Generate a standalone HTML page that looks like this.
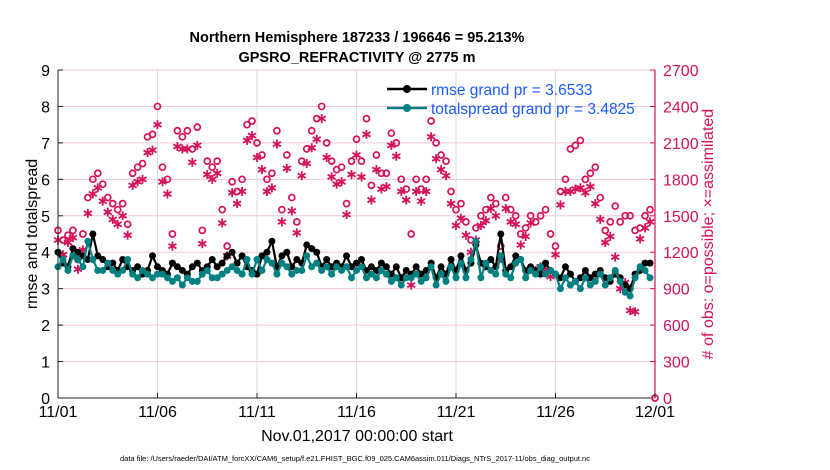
<!DOCTYPE html>
<html><head><meta charset="utf-8"><style>
html,body{margin:0;padding:0;background:#fff;}
svg{display:block;font-family:"Liberation Sans",sans-serif;}
</style></head><body>
<svg id="chart" width="830" height="470" viewBox="0 0 830 470">
<rect width="830" height="470" fill="#fff"/>
<text x="357" y="42" text-anchor="middle" font-size="14.5" font-weight="bold">Northern Hemisphere 187233 / 196646 = 95.213%</text>
<text x="357" y="62" text-anchor="middle" font-size="14.5" font-weight="bold">GPSRO_REFRACTIVITY @ 2775 m</text>
<g id="grid"></g>
<g id="series"></g>
<g id="axes"></g>
<text transform="translate(37,234) rotate(-90)" text-anchor="middle" font-size="16">rmse and totalspread</text>
<text transform="translate(713,234) rotate(-90)" text-anchor="middle" font-size="16" fill="#d6115a"># of obs: o=possible; ×=assimilated</text>
<text x="357" y="441" text-anchor="middle" font-size="16">Nov.01,2017 00:00:00 start</text>
<text x="355" y="461" text-anchor="middle" font-size="7.5">data file: /Users/raeder/DAI/ATM_forcXX/CAM6_setup/f.e21.FHIST_BGC.f09_025.CAM6assim.011/Diags_NTrS_2017-11/obs_diag_output.nc</text>
<g>
<line x1="387" y1="89" x2="427" y2="89" stroke="#000" stroke-width="2.5"/>
<circle cx="407" cy="89" r="4" fill="#000"/>
<text x="431" y="95" font-size="15.5" fill="#1a5cff">rmse grand pr = 3.6533</text>
<line x1="387" y1="108" x2="427" y2="108" stroke="#008080" stroke-width="2.5"/>
<circle cx="407" cy="108" r="4" fill="#008080"/>
<text x="431" y="114" font-size="15.5" fill="#1a5cff">totalspread grand pr = 3.4825</text>
</g>
</svg>
<script>
const rmse=[4.0,3.7,3.6,4.1, 4.0,3.9,3.8,4.5, 3.9,3.8,3.6,3.7, 3.5,3.8,3.6,3.5, 3.6,3.4,3.5,3.9, 3.6,3.5,3.4,3.7, 3.6,3.5,3.4,3.6, 3.7,3.5,3.6,3.8, 3.6,3.7,3.9,4.0, 3.7,3.9,3.6,3.5, 3.4,3.9,4.0,4.3, 3.6,3.9,4.0,3.6, 3.8,3.7,4.2,4.1, 4.0,3.6,3.8,3.6, 3.7,3.6,3.9,3.6, 3.7,3.8,3.5,3.6, 3.5,3.7,3.6,3.4, 3.6,3.3,3.5,3.4, 3.6,3.4,3.5,3.7, 3.3,3.6,3.4,3.8, 3.5,3.9,3.5,3.7, 4.2,3.7,3.6,3.8, 3.6,4.5,3.5,3.6, 3.9,3.8,3.5,3.6, 3.5,3.4,3.7,3.5, 3.4,3.3,3.6,3.4, 3.2,3.3,3.5,3.3, 3.4,3.5,3.3,3.2, 3.4,3.3,3.1,3.0, 3.4,3.5,3.7,3.7];
const spread=[3.6,3.8,3.5,3.9, 3.8,3.6,4.3,3.8, 3.5,3.5,3.7,3.5, 3.4,3.5,3.8,3.4, 3.3,3.5,3.4,3.3, 3.4,3.4,3.3,3.2, 3.3,3.1,3.3,3.2, 3.2,3.4,3.5,3.3, 3.3,3.4,3.5,3.6, 3.5,3.4,3.8,3.4, 3.8,3.5,3.8,3.7, 3.4,3.7,3.6,3.4, 3.5,3.5,3.9,3.6, 3.7,3.5,3.6,3.4, 3.6,3.5,3.6,3.3, 3.5,3.6,3.3,3.4, 3.3,3.5,3.4,3.2, 3.3,3.1,3.3,3.3, 3.4,3.2,3.3,3.6, 3.1,3.4,3.2,3.6, 3.3,3.7,3.3,3.8, 4.3,3.3,3.7,3.5, 3.4,3.9,3.4,3.3, 3.7,3.8,3.3,3.5, 3.4,3.6,3.4,3.5, 3.4,3.0,3.3,3.1, 3.2,3.0,3.3,3.1, 3.2,3.4,3.1,3.3, 3.5,3.2,2.9,2.8, 3.3,3.6,3.5,3.3];
const possible=[1380,1300,1340,1380, 1140,1350,1650,1800, 1850,1760,1650,1600, 1550,1600,1430,1850, 1900,1930,2150,2170, 2400,1900,1800,1350, 2200,2150,2200,2050, 2230,1380,1950,1900, 1950,1550,1250,1780, 1700,1800,2250,2280, 2100,2000,1800,1850, 2200,1550,2000,1650, 1450,1950,2050,2200, 2300,2400,2100,1950, 1880,1900,1600,1950, 2130,1950,2300,1750, 2000,1850,1850,2180, 2100,1800,1720,1350, 1800,1720,1800,2280, 2100,2000,1950,1700, 1550,1600,1450,1300, 1400,1500,1550,1650, 1600,1250,1650,1550, 1500,1350,1400,1500, 1450,1500,1550,1350, 1250,1700,1800,2050, 2080,2120,1800,1850, 1900,1650,1380,1450, 1580,1450,1500,1500, 1380,1400,1500,1550, 0];
const assim=[1300,1180,1280,1320, 1060,1220,1520,1680, 1730,1620,1530,1470, 1430,1500,1340,1750, 1780,1800,2020,2040, 2250,1780,1680,1250, 2070,2050,2050,1940, 2080,1270,1840,1800, 1850,1440,1170,1690, 1600,1700,2120,2160, 1980,1880,1700,1730, 2090,1450,1890,1540, 1360,1830,1930,2060, 2130,2300,1980,1820, 1760,1780,1510,1840, 2000,1820,2170,1630, 1880,1720,1740,2080, 1990,1700,1630,930, 1700,1620,1700,2150, 1970,1880,1830,1600, 1420,1480,1340,1200, 1300,1420,1460,1560, 1500,1150,1560,1450, 1430,1260,1330,1440, 1050,1080,1060,1000, 1180,1590,1700,1700, 1720,1730,1690,1740, 1600,1470,1280,1330, 1160,900,950,720, 710,1310,1400,1450];
const leftTicks=[0,1,2,3,4,5,6,7,8,9];
const rightTicks=[0,300,600,900,1200,1500,1800,2100,2400,2700];
const xTickLabels=["11/01","11/06","11/11","11/16","11/21","11/26","12/01"];
const xTickDays=[0,5,10,15,20,25,30];

const X0=58,X1=655,Y0=398,Y1=70;
const xs=d=>X0+(X1-X0)*d/30;
const yl=v=>Y0-(Y0-Y1)*v/9;
const yr=v=>Y0-(Y0-Y1)*v/2700;
const NS="http://www.w3.org/2000/svg";
function mk(tag,attrs,parent){const e=document.createElementNS(NS,tag);for(const k in attrs)e.setAttribute(k,attrs[k]);parent.appendChild(e);return e;}
const grid=document.getElementById('grid'),ser=document.getElementById('series'),ax=document.getElementById('axes');
const MAG="#d6115a";
rightTicks.forEach((t,i)=>{if(i===0)return;const l=mk('line',{x1:X0,x2:X1,y1:yr(t),y2:yr(t),stroke:"#f5c6d6","stroke-width":1},grid);

});
xTickDays.forEach((d,i)=>{if(i===0||i===xTickDays.length-1)return;const l=mk('line',{x1:xs(d),x2:xs(d),y1:Y1,y2:Y0,stroke:"#dcdcdc","stroke-width":1},grid);

});
let a=mk('line',{x1:X0,x2:X0,y1:Y1,y2:Y0,stroke:"#222","stroke-width":1},ax);

a=mk('line',{x1:X0,x2:X1,y1:Y0,y2:Y0,stroke:"#222","stroke-width":1},ax);

a=mk('line',{x1:X1,x2:X1,y1:Y1,y2:Y0,stroke:MAG,"stroke-width":1.2},ax);

leftTicks.forEach(t=>{mk('line',{x1:X0,x2:X0+5,y1:yl(t),y2:yl(t),stroke:"#222"},ax);
const tx=mk('text',{x:X0-8,y:yl(t)+6,"text-anchor":"end","font-size":16},ax);tx.textContent=t;

});
rightTicks.forEach(t=>{mk('line',{x1:X1-5,x2:X1,y1:yr(t),y2:yr(t),stroke:MAG},ax);
const tx=mk('text',{x:X1+8,y:yr(t)+6,"font-size":16,fill:MAG},ax);tx.textContent=t;

});
xTickDays.forEach((d,i)=>{mk('line',{x1:xs(d),x2:xs(d),y1:Y0,y2:Y0-5,stroke:"#222"},ax);
const tx=mk('text',{x:xs(d),y:Y0+19,"text-anchor":"middle","font-size":16},ax);tx.textContent=xTickLabels[i];

});
possible.forEach((v,i)=>{const c=mk('circle',{cx:xs(i/4),cy:yr(v),r:3,fill:"none",stroke:MAG,"stroke-width":1.7},ser);

});
assim.forEach((v,i)=>{const g=mk('g',{transform:`translate(${xs(i/4)},${yr(v)})`,stroke:MAG,"stroke-width":1.8},ser);


[[0,-4.5,0,4.5],[-4,-2.3,4,2.3],[-4,2.3,4,-2.3]].forEach(p=>mk('line',{x1:p[0],y1:p[1],x2:p[2],y2:p[3]},g));});
function series(arr,col,name){
const pts=arr.map((v,i)=>xs(i/4)+","+yl(v)).join(" ");
const p=mk('polyline',{points:pts,fill:"none",stroke:col,"stroke-width":2.2},ser);


arr.forEach((v,i)=>{const c=mk('circle',{cx:xs(i/4),cy:yl(v),r:3.5,fill:col},ser);

});}
series(rmse,"#000","rmse");
series(spread,"#008080","totalspread");
</script>
</body></html>
